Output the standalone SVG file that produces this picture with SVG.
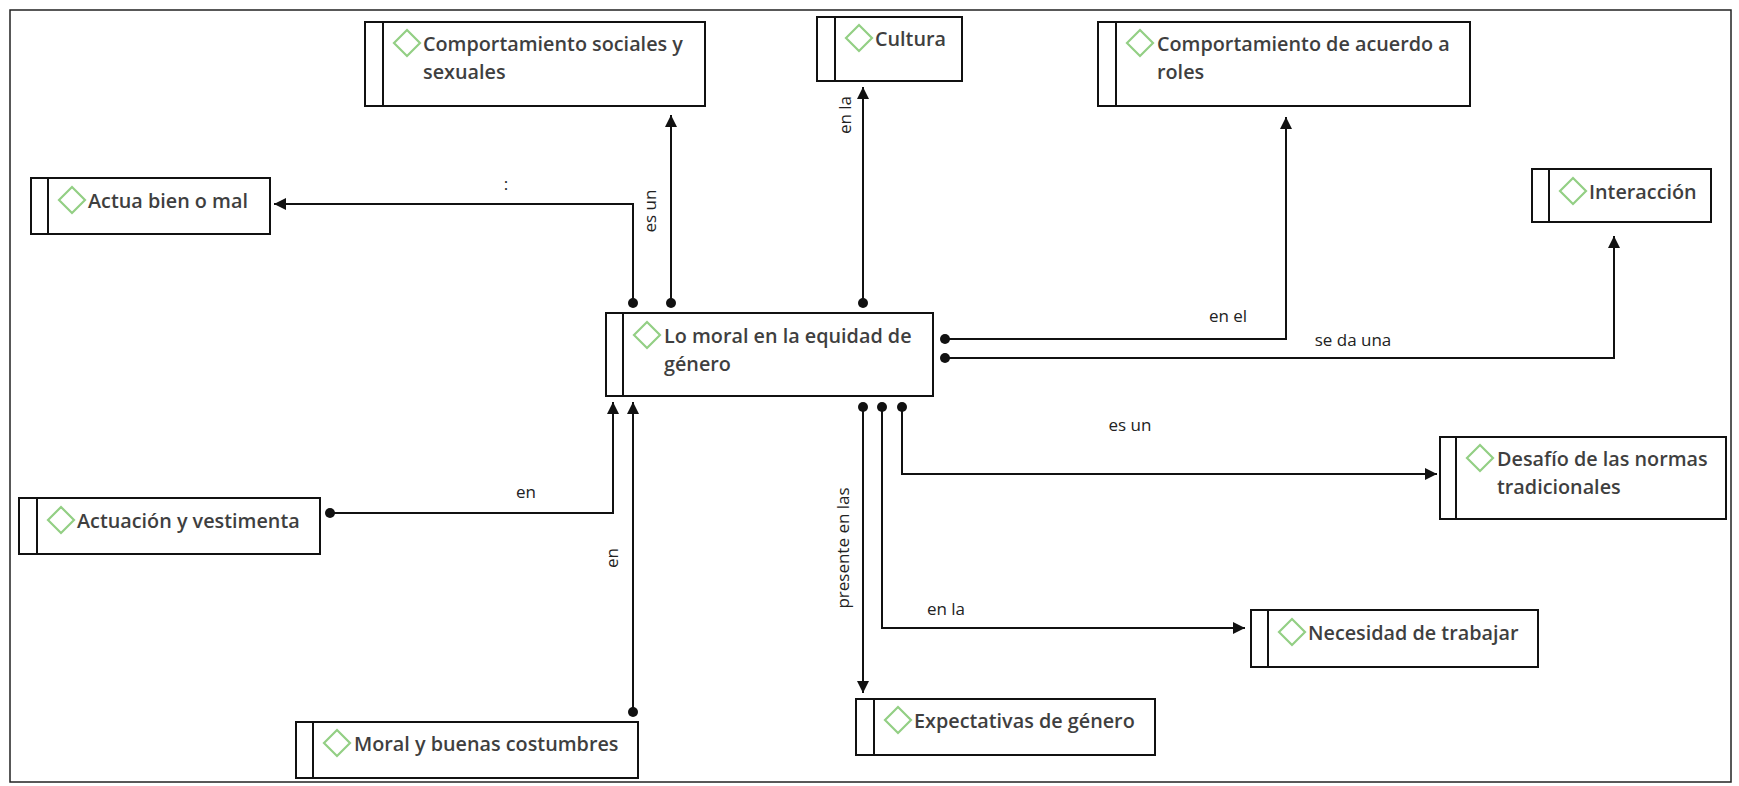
<svg xmlns="http://www.w3.org/2000/svg" width="1739" height="786" viewBox="0 0 1739 786">
<defs>
<style>
.box{fill:#fff;stroke:#111;stroke-width:2}
.div{stroke:#111;stroke-width:2}
.dia{fill:none;stroke:#93cf84;stroke-width:2.2}
.nt{font-family:"Open Sans","Noto Sans",sans-serif;font-weight:600;font-size:19.8px;fill:#3f3f3f}
.cl{font-family:"Open Sans","Noto Sans",sans-serif;font-size:17px;fill:#222}
.ln{fill:none;stroke:#111;stroke-width:2}
</style>
<marker id="dot" markerWidth="12" markerHeight="12" refX="6" refY="6" markerUnits="userSpaceOnUse"><circle cx="6" cy="6" r="5" fill="#111"/></marker>
<marker id="arr" markerWidth="16" markerHeight="16" refX="13" refY="7" orient="auto" markerUnits="userSpaceOnUse"><path d="M1,1 L13,7 L1,13 Z" fill="#111"/></marker>
</defs>
<rect x="0" y="0" width="1739" height="786" fill="#fff"/>
<rect x="10" y="10" width="1721" height="772" fill="none" stroke="#222" stroke-width="1.5"/>

<g id="connectors">
<path class="ln" d="M633,303 V204 H274" marker-start="url(#dot)" marker-end="url(#arr)"/>
<path class="ln" d="M671,303 V115" marker-start="url(#dot)" marker-end="url(#arr)"/>
<path class="ln" d="M863,303 V87" marker-start="url(#dot)" marker-end="url(#arr)"/>
<path class="ln" d="M945,339 H1286 V117" marker-start="url(#dot)" marker-end="url(#arr)"/>
<path class="ln" d="M945,358 H1614 V236" marker-start="url(#dot)" marker-end="url(#arr)"/>
<path class="ln" d="M902,407 V474 H1437" marker-start="url(#dot)" marker-end="url(#arr)"/>
<path class="ln" d="M882,407 V628 H1245" marker-start="url(#dot)" marker-end="url(#arr)"/>
<path class="ln" d="M863,407 V693" marker-start="url(#dot)" marker-end="url(#arr)"/>
<path class="ln" d="M330,513 H613 V402" marker-start="url(#dot)" marker-end="url(#arr)"/>
<path class="ln" d="M633,712 V402" marker-start="url(#dot)" marker-end="url(#arr)"/>
<text class="cl" x="506" y="190" text-anchor="middle">:</text>
<text class="cl" transform="translate(656,211) rotate(-90)" text-anchor="middle">es un</text>
<text class="cl" transform="translate(851,115) rotate(-90)" text-anchor="middle">en la</text>
<text class="cl" x="1228" y="322" text-anchor="middle">en el</text>
<text class="cl" x="1353" y="346" text-anchor="middle">se da una</text>
<text class="cl" x="1130" y="431" text-anchor="middle">es un</text>
<text class="cl" x="946" y="615" text-anchor="middle">en la</text>
<text class="cl" x="526" y="498" text-anchor="middle">en</text>
<text class="cl" transform="translate(618,558) rotate(-90)" text-anchor="middle">en</text>
<text class="cl" transform="translate(849,548) rotate(-90)" text-anchor="middle">presente en las</text>
</g>

<g id="n-central">
<rect class="box" x="606" y="313" width="327" height="83"/>
<line class="div" x1="623" y1="313" x2="623" y2="396"/>
<path class="dia" d="M647,322 L660,335 L647,348 L634,335 Z"/>
<text class="nt" x="664" y="343">Lo moral en la equidad de</text>
<text class="nt" x="664" y="371">género</text>
</g>

<g id="n-sociales">
<rect class="box" x="365" y="22" width="340" height="84"/>
<line class="div" x1="383" y1="22" x2="383" y2="106"/>
<path class="dia" d="M407,30 L420,43 L407,56 L394,43 Z"/>
<text class="nt" x="423" y="51">Comportamiento sociales y</text>
<text class="nt" x="423" y="79">sexuales</text>
</g>

<g id="n-cultura">
<rect class="box" x="817" y="17" width="145" height="64"/>
<line class="div" x1="835" y1="17" x2="835" y2="81"/>
<path class="dia" d="M859,25 L872,38 L859,51 L846,38 Z"/>
<text class="nt" x="875" y="46">Cultura</text>
</g>

<g id="n-roles">
<rect class="box" x="1098" y="22" width="372" height="84"/>
<line class="div" x1="1116" y1="22" x2="1116" y2="106"/>
<path class="dia" d="M1140,30 L1153,43 L1140,56 L1127,43 Z"/>
<text class="nt" x="1157" y="51">Comportamiento de acuerdo a</text>
<text class="nt" x="1157" y="79">roles</text>
</g>

<g id="n-actua">
<rect class="box" x="31" y="178" width="239" height="56"/>
<line class="div" x1="48" y1="178" x2="48" y2="234"/>
<path class="dia" d="M72,187 L85,200 L72,213 L59,200 Z"/>
<text class="nt" x="88" y="208">Actua bien o mal</text>
</g>

<g id="n-interaccion">
<rect class="box" x="1532" y="169" width="179" height="53"/>
<line class="div" x1="1549" y1="169" x2="1549" y2="222"/>
<path class="dia" d="M1573,178 L1586,191 L1573,204 L1560,191 Z"/>
<text class="nt" x="1589" y="199">Interacción</text>
</g>

<g id="n-actuacion">
<rect class="box" x="19" y="498" width="301" height="56"/>
<line class="div" x1="37" y1="498" x2="37" y2="554"/>
<path class="dia" d="M61,507 L74,520 L61,533 L48,520 Z"/>
<text class="nt" x="77" y="528">Actuación y vestimenta</text>
</g>

<g id="n-moral">
<rect class="box" x="296" y="722" width="342" height="56"/>
<line class="div" x1="313" y1="722" x2="313" y2="778"/>
<path class="dia" d="M337,730 L350,743 L337,756 L324,743 Z"/>
<text class="nt" x="354" y="751">Moral y buenas costumbres</text>
</g>

<g id="n-expectativas">
<rect class="box" x="856" y="699" width="299" height="56"/>
<line class="div" x1="874" y1="699" x2="874" y2="755"/>
<path class="dia" d="M898,707 L911,720 L898,733 L885,720 Z"/>
<text class="nt" x="914" y="728">Expectativas de género</text>
</g>

<g id="n-necesidad">
<rect class="box" x="1251" y="610" width="287" height="57"/>
<line class="div" x1="1268" y1="610" x2="1268" y2="667"/>
<path class="dia" d="M1292,619 L1305,632 L1292,645 L1279,632 Z"/>
<text class="nt" x="1308" y="640">Necesidad de trabajar</text>
</g>

<g id="n-desafio">
<rect class="box" x="1440" y="437" width="286" height="82"/>
<line class="div" x1="1456" y1="437" x2="1456" y2="519"/>
<path class="dia" d="M1480,445 L1493,458 L1480,471 L1467,458 Z"/>
<text class="nt" x="1497" y="466">Desafío de las normas</text>
<text class="nt" x="1497" y="494">tradicionales</text>
</g>
</svg>
